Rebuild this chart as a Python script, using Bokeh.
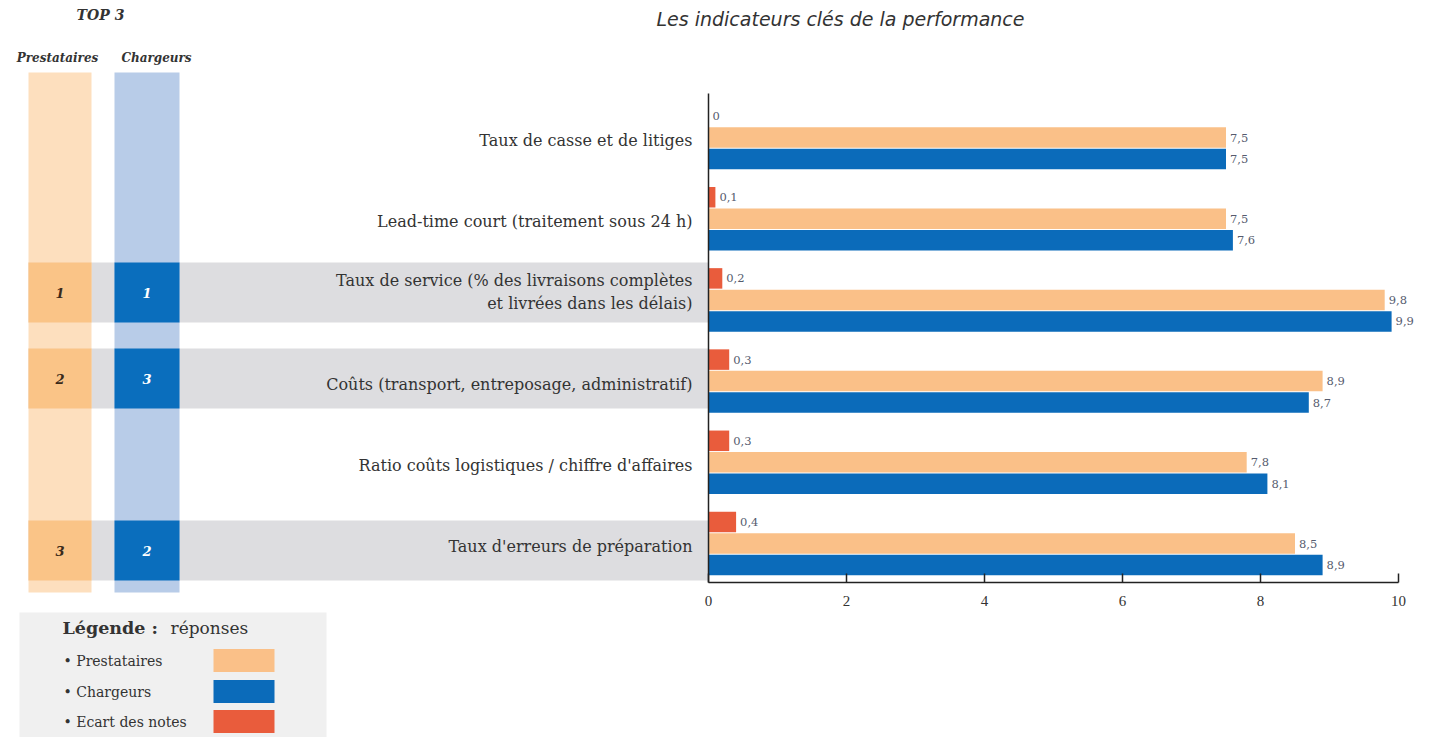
from bokeh.plotting import figure
from bokeh.models import Range1d, LinearAxis, FixedTicker
from bokeh.core.properties import value
from bokeh.embed import file_html
from bokeh.resources import INLINE

# ---------------- data ----------------
categories = [
    "Taux de casse et de litiges",
    "Lead-time court (traitement sous 24 h)",
    "Taux de service (% des livraisons complètes\net livrées dans les délais)",
    "Coûts (transport, entreposage, administratif)",
    "Ratio coûts logistiques / chiffre d'affaires",
    "Taux d'erreurs de préparation",
]
ecart = [0, 0.1, 0.2, 0.3, 0.3, 0.4]
prestataires = [7.5, 7.5, 9.8, 8.9, 7.8, 8.5]
chargeurs = [7.5, 7.6, 9.9, 8.7, 8.1, 8.9]
rank_prestataires = [None, None, 1, 2, None, 3]
rank_chargeurs = [None, None, 1, 3, None, 2]
x_ticks = [0, 2, 4, 6, 8, 10]
series_names = ["Prestataires", "Chargeurs", "Ecart des notes"]

# ---------------- style ----------------
C_ORANGE = "#FAC088"
C_BLUE = "#0B6BBA"
C_RED = "#E95C3C"
C_ORANGE_LIGHT = "#FDDFBE"
C_ORANGE_CELL = "#FAC487"
C_BLUE_LIGHT = "#B8CCE8"
C_BLUE_CELL = "#0A6EBD"
C_BAND = "#DDDDE0"
C_LEG = "#F0F0F0"
SERIF = "DejaVu Serif"
SERIF2 = "Liberation Serif"

W, H = 1416, 737
X0PX, PXU = 708, 69.0      # px of x=0, px per unit
Y0PX, PYU = 137, 81.2      # px of first row centre, px per row


def fx(px):
    return (px - X0PX) / PXU


def fy(py):
    return (Y0PX - py) / PYU


def dx(px):
    return px / PXU


def dy(px):
    return px / PYU


p = figure(width=W, height=H, output_backend="svg", toolbar_location=None,
           x_range=Range1d(fx(0), fx(W)), y_range=Range1d(fy(H), fy(0)),
           x_axis_type=None, y_axis_type=None, min_border=0)
p.outline_line_color = None
p.xgrid.visible = False
p.ygrid.visible = False
p.background_fill_color = "white"

n = len(categories)
rows = [-i for i in range(n)]
off = dy(21.5)
bh = dy(20.5)

# ---- gray bands for top-3 rows ----
top_rows = [i for i in range(n) if rank_prestataires[i] is not None]
band_c = [fy(292 + 86 * (i - 2)) for i in top_rows]
p.quad(left=fx(28), right=0, top=[c + dy(30) for c in band_c],
       bottom=[c - dy(30) for c in band_c], fill_color=C_BAND, line_color=None)

# ---- left columns ----
col_l = [fx(28), fx(114)]
col_r = [fx(91), fx(179)]
p.quad(left=col_l, right=col_r, top=fy(72), bottom=fy(592),
       fill_color=[C_ORANGE_LIGHT, C_BLUE_LIGHT], line_color=None)
p.quad(left=col_l[0], right=col_r[0], top=[c + dy(30) for c in band_c],
       bottom=[c - dy(30) for c in band_c], fill_color=C_ORANGE_CELL, line_color=None)
p.quad(left=col_l[1], right=col_r[1], top=[c + dy(30) for c in band_c],
       bottom=[c - dy(30) for c in band_c], fill_color=C_BLUE_CELL, line_color=None)
p.text(x=(col_l[0] + col_r[0]) / 2, y=band_c,
       text=[str(rank_prestataires[i]) for i in top_rows],
       text_font=value(SERIF), text_font_size="13px", text_font_style="bold italic",
       text_color="#3a2a1a", text_align="center", text_baseline="middle")
p.text(x=(col_l[1] + col_r[1]) / 2, y=band_c,
       text=[str(rank_chargeurs[i]) for i in top_rows],
       text_font=value(SERIF), text_font_size="13px", text_font_style="bold italic",
       text_color="white", text_align="center", text_baseline="middle")

# headers
p.text(x=fx(100), y=fy(14), text=["TOP 3"], text_font=value(SERIF),
       text_font_size="14px", text_font_style="bold italic", text_color="#333333",
       text_align="center", text_baseline="middle")
p.text(x=[fx(57), fx(156)], y=fy(57), text=["Prestataires", "Chargeurs"],
       text_font=value(SERIF), text_font_size="12px", text_font_style="bold italic",
       text_color="#333333", text_align="center", text_baseline="middle")
p.text(x=fx(840), y=fy(18), text=["Les indicateurs clés de la performance"],
       text_font=value("DejaVu Sans"), text_font_size="19px", text_font_style="italic",
       text_color="#333333", text_align="center", text_baseline="middle")

# ---- bars ----
p.hbar(y=[r + off for r in rows], left=0, right=ecart, height=bh,
       fill_color=C_RED, line_color=None)
p.hbar(y=rows, left=0, right=prestataires, height=bh,
       fill_color=C_ORANGE, line_color=None)
p.hbar(y=[r - off for r in rows], left=0, right=chargeurs, height=bh,
       fill_color=C_BLUE, line_color=None)


def fmt(v):
    return f"{v:g}".replace(".", ",")


for vals, yoff in ((ecart, off), (prestataires, 0), (chargeurs, -off)):
    p.text(x=[v + dx(4) for v in vals], y=[r + yoff for r in rows],
           text=[fmt(v) for v in vals], text_font=value(SERIF), text_font_size="11.5px",
           text_color="#555b6e", text_align="left", text_baseline="middle")

# ---- category labels ----
lab_y = [r - dy(3) if "\n" not in c else r + dy(8) for r, c in zip(rows, categories)]
p.text(x=-dx(16), y=lab_y, text=categories, text_font=value(SERIF),
       text_font_size="16px", text_color="#333333", text_align="right",
       text_baseline="middle", text_line_height=1.25)

# ---- axes ----
xa = LinearAxis(fixed_location=fy(582), bounds=(0, 10), ticker=FixedTicker(ticks=x_ticks))
xa.major_tick_in = 9
xa.major_tick_out = 0
xa.minor_tick_in = 0
xa.minor_tick_out = 0
xa.major_label_standoff = 13
xa.axis_line_color = "#222222"
xa.axis_line_width = 1.5
xa.major_tick_line_color = "#222222"
xa.major_tick_line_width = 1.5
xa.major_label_text_font = SERIF2
xa.major_label_text_font_size = "15px"
xa.major_label_text_color = "#333333"
p.add_layout(xa, "below")

ya = LinearAxis(fixed_location=0, bounds=(fy(582), fy(93)), ticker=FixedTicker(ticks=[]))
ya.axis_line_color = "#222222"
ya.axis_line_width = 1.5
ya.major_tick_in = 0
ya.major_tick_out = 0
ya.minor_tick_in = 0
ya.minor_tick_out = 0
p.add_layout(ya, "left")

# ---- legend box ----
p.quad(left=fx(19), right=fx(326), top=fy(612), bottom=fy(760),
       fill_color=C_LEG, line_color=None)
p.text(x=fx(62), y=fy(627), text=["Légende :"], text_font=value(SERIF),
       text_font_size="17.5px", text_font_style="bold", text_color="#333333",
       text_align="left", text_baseline="middle")
p.text(x=fx(170), y=fy(627), text=["réponses"], text_font=value(SERIF),
       text_font_size="17px", text_color="#333333",
       text_align="left", text_baseline="middle")
leg_y = [fy(660), fy(691), fy(721)]
p.text(x=fx(63), y=leg_y, text=["• " + s for s in series_names], text_font=value(SERIF),
       text_font_size="14px", text_color="#333333", text_align="left", text_baseline="middle")
p.quad(left=fx(213), right=fx(274), top=[v + dy(11.5) for v in leg_y],
       bottom=[v - dy(11.5) for v in leg_y],
       fill_color=[C_ORANGE, C_BLUE, C_RED], line_color=None)

open("out.html", "w").write(file_html(p, INLINE))
